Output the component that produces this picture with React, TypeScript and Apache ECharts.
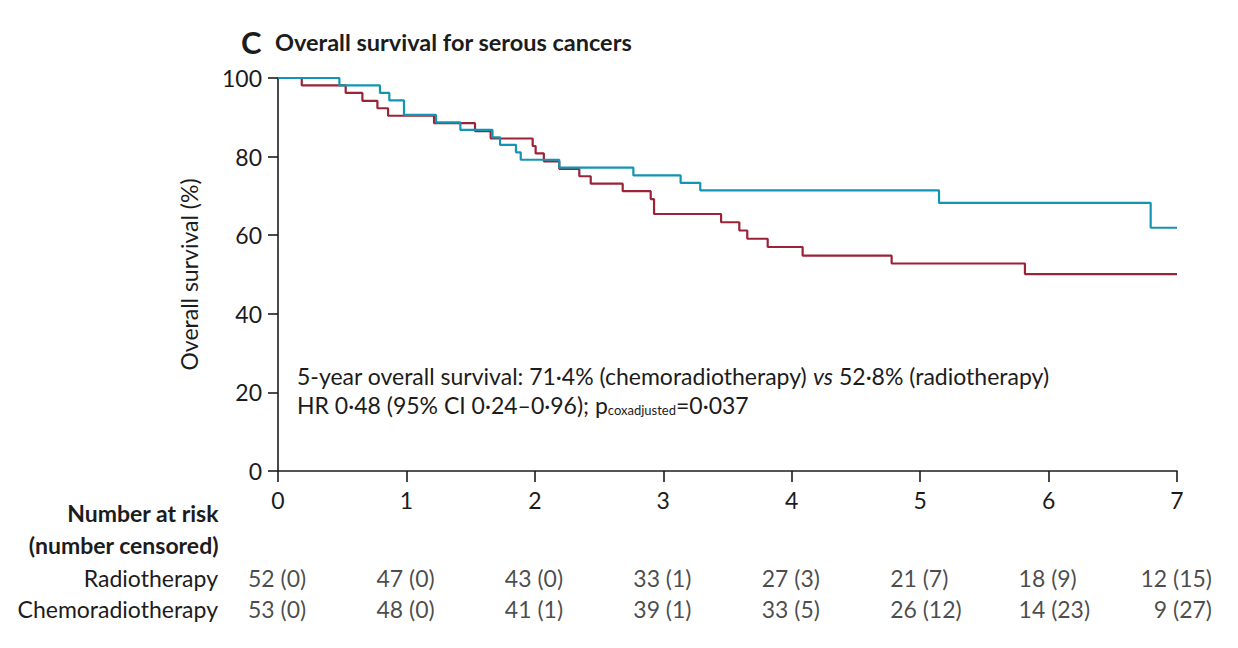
import React, { useEffect, useRef } from "react";
import * as echarts from "echarts";

const radioTimes = [0, 0.185, 0.527, 0.657, 0.774, 0.857, 1.215, 1.534, 1.656, 1.983, 2.006, 2.07, 2.19, 2.346, 2.435, 2.684, 2.902, 2.928, 3.45, 3.592, 3.654, 3.813, 4.085, 4.778, 5.816, 7.0];
const radioSurv = [100, 98.1, 96.2, 94.2, 92.3, 90.4, 88.5, 86.5, 84.6, 82.7, 80.8, 78.8, 76.9, 75.0, 73.1, 71.2, 69.2, 65.4, 63.3, 61.2, 59.1, 57.0, 54.8, 52.8, 50.1, 50.1];

const chemoTimes = [0, 0.478, 0.794, 0.867, 0.981, 1.23, 1.42, 1.67, 1.729, 1.853, 1.89, 2.19, 2.767, 3.135, 3.288, 5.147, 6.795, 7.0];
const chemoSurv = [100, 98.1, 96.2, 94.3, 90.6, 88.7, 86.8, 84.9, 83.0, 81.1, 79.2, 77.2, 75.2, 73.3, 71.4, 68.2, 61.9, 61.9];

const xTicks = [0, 1, 2, 3, 4, 5, 6, 7];
const groups = ["Radiotherapy", "Chemoradiotherapy"];
const radioAtRisk = ["52 (0)", "47 (0)", "43 (0)", "33 (1)", "27 (3)", "21 (7)", "18 (9)", "12 (15)"];
const chemoAtRisk = ["53 (0)", "48 (0)", "41 (1)", "39 (1)", "33 (5)", "26 (12)", "14 (23)", "9 (27)"];

const RED = "#9b2337";
const BLUE = "#1295b4";
const INK = "#1c1c1c";
const FONT = "Lato";
const FS = 23;

export default function App() {
  const ref = useRef<HTMLDivElement>(null);
  useEffect(() => {
    if (!ref.current) return;
    const chart = echarts.init(ref.current, null, { renderer: "svg" });
    const riskData = (row: string, vals: string[]) =>
      vals.map((v, i) => {
        const last = i === vals.length - 1;
        return {
          value: [xTicks[i], row],
          label: {
            show: true,
            formatter: v,
            position: "inside",
            align: last ? "right" : "left",
            offset: [last ? 35 : -30, 0],
          },
        };
      });
    chart.setOption({
      animation: false,
      textStyle: { fontFamily: FONT },
      grid: [
        { left: 278, right: 61, top: 78, bottom: 177 },
        { left: 278, right: 61, top: 562, height: 62 },
      ],
      xAxis: [
        {
          type: "value",
          gridIndex: 0,
          min: 0,
          max: 7,
          interval: 1,
          axisLine: { lineStyle: { color: INK, width: 1.6 } },
          axisTick: { length: 11, lineStyle: { color: INK, width: 1.6 } },
          axisLabel: { fontSize: FS, color: INK, margin: 17, fontFamily: FONT },
          splitLine: { show: false },
        },
        { type: "value", gridIndex: 1, min: 0, max: 7, show: false },
      ],
      yAxis: [
        {
          type: "value",
          gridIndex: 0,
          min: 0,
          max: 100,
          interval: 20,
          name: "Overall survival (%)",
          nameLocation: "middle",
          nameGap: 78,
          nameTextStyle: { fontSize: FS, color: INK, fontFamily: FONT },
          axisLine: { show: true, lineStyle: { color: INK, width: 1.6 } },
          axisTick: { show: true, length: 10, lineStyle: { color: INK, width: 1.6 } },
          axisLabel: { fontSize: FS, color: INK, margin: 16, fontFamily: FONT },
          splitLine: { show: false },
        },
        {
          type: "category",
          gridIndex: 1,
          data: groups,
          inverse: true,
          axisLine: { show: false },
          axisTick: { show: false },
          axisLabel: { fontSize: FS, color: INK, margin: 60, fontFamily: FONT },
        },
      ],
      series: [
        {
          name: "Radiotherapy",
          type: "line",
          step: "end",
          showSymbol: false,
          data: radioTimes.map((t, i) => [t, radioSurv[i]]),
          lineStyle: { color: RED, width: 2.2 },
          itemStyle: { color: RED },
        },
        {
          name: "Chemoradiotherapy",
          type: "line",
          step: "end",
          showSymbol: false,
          data: chemoTimes.map((t, i) => [t, chemoSurv[i]]),
          lineStyle: { color: BLUE, width: 2.2 },
          itemStyle: { color: BLUE },
        },
        {
          type: "scatter",
          xAxisIndex: 1,
          yAxisIndex: 1,
          symbolSize: 1,
          itemStyle: { color: "transparent" },
          label: { fontSize: FS, color: INK, fontFamily: FONT },
          data: [...riskData(groups[0], radioAtRisk), ...riskData(groups[1], chemoAtRisk)],
        },
      ],
      graphic: [
        {
          type: "text",
          left: 241,
          top: 26,
          style: { text: "C", fontSize: 31, fontWeight: "bold", fill: INK, fontFamily: FONT },
        },
        {
          type: "text",
          left: 275,
          top: 30,
          style: { text: "Overall survival for serous cancers", fontSize: 23.5, fontWeight: "bold", fill: INK, fontFamily: FONT },
        },
        {
          type: "text",
          left: 297,
          top: 364,
          style: {
            text: "{n|5-year overall survival: 71·4% (chemoradiotherapy) }{i|vs}{n| 52·8% (radiotherapy)}",
            rich: {
              n: { fontSize: FS, fill: INK, fontFamily: FONT },
              i: { fontSize: FS, fill: INK, fontStyle: "italic", fontFamily: FONT },
            },
          },
        },
        {
          type: "text",
          left: 297,
          top: 393,
          style: {
            text: "{n|HR 0·48 (95% CI 0·24–0·96); p}{s|coxadjusted}{n|=0·037}",
            rich: {
              n: { fontSize: FS, fill: INK, fontFamily: FONT, verticalAlign: "bottom", lineHeight: 28 },
              s: { fontSize: 13, fill: INK, fontFamily: FONT, verticalAlign: "bottom", lineHeight: 14 },
            },
          },
        },
        {
          type: "text",
          right: 1238 - 219,
          top: 501,
          style: { text: "Number at risk", fontSize: FS, fontWeight: "bold", fill: INK, fontFamily: FONT, align: "right" },
        },
        {
          type: "text",
          right: 1238 - 219,
          top: 533,
          style: { text: "(number censored)", fontSize: FS, fontWeight: "bold", fill: INK, fontFamily: FONT, align: "right" },
        },
      ],
    });
    return () => chart.dispose();
  }, []);
  return <div ref={ref} style={{ width: 1238, height: 648, position: "absolute", left: 0, top: 0, background: "#fff" }} />;
}
